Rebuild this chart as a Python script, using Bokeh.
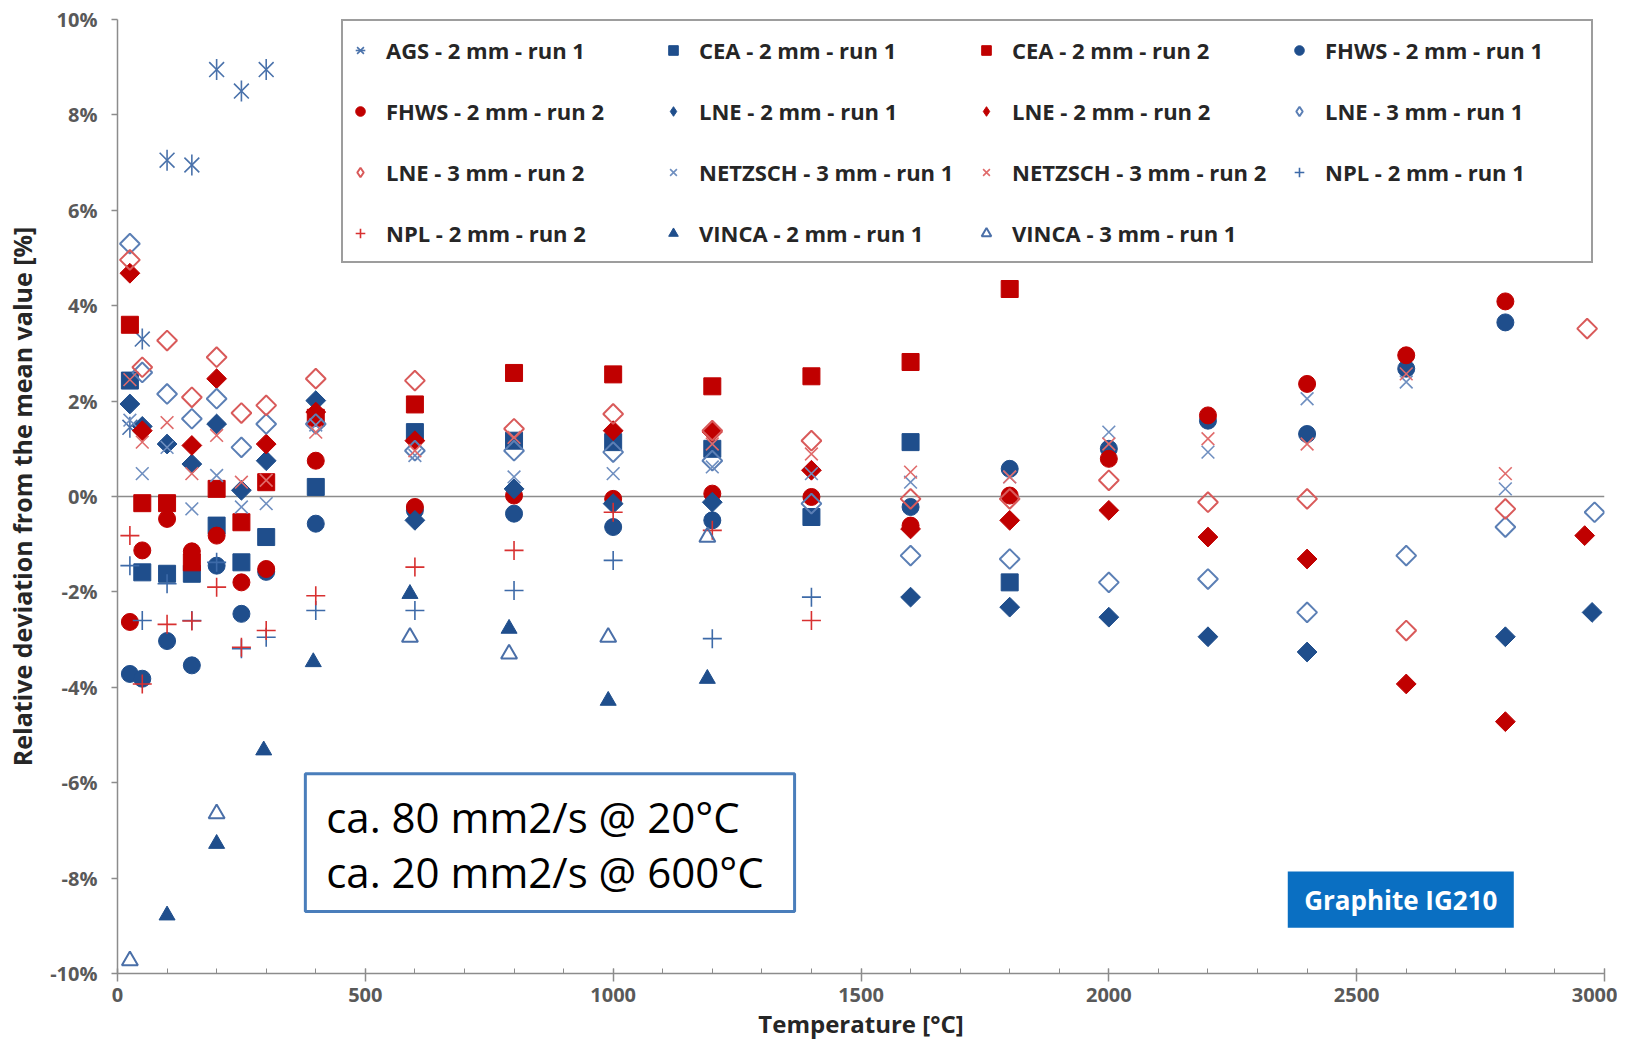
import numpy as np
from bokeh.plotting import figure
from bokeh.models import (FixedTicker, PrintfTickFormatter, Span, Legend, LegendItem,
                          BoxAnnotation, Label, Range1d)
from bokeh.embed import file_html
from bokeh.resources import INLINE

# ---------------- data ----------------
AGS_T = [25, 50, 100, 150, 200, 250, 300]
AGS_V = [1.45, 3.3, 7.05, 6.95, 8.95, 8.5, 8.95]

CEA1_T = [25, 50, 100, 150, 200, 250, 300, 400, 600, 800, 1000, 1200, 1400, 1600, 1800]
CEA1_V = [2.43, -1.59, -1.62, -1.62, -0.61, -1.38, -0.85, 0.2, 1.35, 1.17, 1.14, 1.0, -0.43, 1.14, -1.8]

CEA2_T = [25, 50, 100, 150, 200, 250, 300, 400, 600, 800, 1000, 1200, 1400, 1600, 1800]
CEA2_V = [3.6, -0.14, -0.14, -1.38, 0.16, -0.54, 0.3, 1.65, 1.93, 2.59, 2.56, 2.31, 2.52, 2.82, 4.35]

FHWS1_T = [25, 50, 100, 150, 200, 250, 300, 400, 600, 800, 1000, 1200, 1600, 1800, 2000, 2200, 2400, 2600, 2800]
FHWS1_V = [-3.72, -3.82, -3.03, -3.54, -1.45, -2.46, -1.58, -0.57, -0.29, -0.36, -0.64, -0.5, -0.22, 0.58, 1.0, 1.59, 1.31, 2.68, 3.65]

FHWS2_T = [25, 50, 100, 150, 200, 250, 300, 400, 600, 800, 1000, 1200, 1400, 1600, 1800, 2000, 2200, 2400, 2600, 2800]
FHWS2_V = [-2.63, -1.13, -0.47, -1.15, -0.82, -1.8, -1.52, 0.75, -0.22, 0.02, -0.05, 0.06, -0.01, -0.61, 0.02, 0.79, 1.7, 2.36, 2.96, 4.09]

LNE1_T = [25, 50, 100, 150, 200, 250, 300, 400, 600, 800, 1000, 1200, 1600, 1800, 2000, 2200, 2400, 2800, 2975]
LNE1_V = [1.94, 1.47, 1.1, 0.68, 1.52, 0.13, 0.75, 2.01, -0.5, 0.16, -0.15, -0.12, -2.11, -2.32, -2.53, -2.94, -3.26, -2.94, -2.43]

LNE2_T = [25, 50, 150, 200, 300, 400, 600, 1000, 1200, 1400, 1600, 1800, 2000, 2200, 2400, 2600, 2800, 2960]
LNE2_V = [4.68, 1.38, 1.07, 2.47, 1.1, 1.77, 1.17, 1.38, 1.35, 0.55, -0.68, -0.5, -0.29, -0.85, -1.31, -3.93, -4.72, -0.82]

LNE3_1_T = [25, 50, 100, 150, 200, 250, 300, 400, 600, 800, 1000, 1200, 1400, 1600, 1800, 2000, 2200, 2400, 2600, 2800, 2980]
LNE3_1_V = [5.3, 2.6, 2.15, 1.63, 2.05, 1.03, 1.52, 1.52, 0.96, 0.96, 0.93, 0.75, -0.15, -1.24, -1.31, -1.8, -1.73, -2.43, -1.24, -0.64, -0.33]

LNE3_2_T = [25, 50, 100, 150, 200, 250, 300, 400, 600, 800, 1000, 1200, 1400, 1600, 1800, 2000, 2200, 2400, 2600, 2800, 2965]
LNE3_2_V = [4.96, 2.71, 3.27, 2.08, 2.92, 1.75, 1.91, 2.47, 2.43, 1.42, 1.73, 1.38, 1.17, -0.05, -0.05, 0.34, -0.12, -0.05, -2.81, -0.26, 3.52]

NETZSCH1_T = [25, 50, 100, 150, 200, 250, 300, 400, 600, 800, 1000, 1200, 1400, 1600, 1800, 2000, 2200, 2400, 2600, 2800]
NETZSCH1_V = [1.6, 0.48, 1.03, -0.26, 0.44, -0.22, -0.15, 1.5, 0.86, 0.41, 0.48, 0.62, 0.48, 0.3, 0.41, 1.35, 0.93, 2.05, 2.4, 0.16]

NETZSCH2_T = [25, 50, 100, 150, 200, 250, 300, 400, 600, 800, 1200, 1400, 1600, 1800, 2000, 2200, 2400, 2600, 2800]
NETZSCH2_V = [2.45, 1.14, 1.55, 0.48, 1.28, 0.3, 0.34, 1.35, 0.96, 1.24, 1.1, 0.89, 0.51, 0.41, 1.1, 1.21, 1.1, 2.57, 0.48]

NPL1_T = [25, 50, 100, 150, 200, 250, 300, 400, 600, 800, 1000, 1200, 1400]
NPL1_V = [-1.45, -2.6, -1.83, -2.6, -1.38, -3.19, -2.95, -2.39, -2.39, -1.97, -1.34, -2.98, -2.11]

NPL2_T = [25, 50, 100, 150, 200, 250, 300, 400, 600, 800, 1000, 1200, 1400]
NPL2_V = [-0.82, -3.93, -2.68, -2.61, -1.9, -3.16, -2.81, -2.08, -1.48, -1.13, -0.33, -0.71, -2.6]

VINCA2_T = [100, 200, 295, 395, 590, 790, 990, 1190]
VINCA2_V = [-8.78, -7.28, -5.32, -3.47, -2.04, -2.77, -4.28, -3.82]

VINCA3_T = [25, 200, 590, 790, 990, 1190]
VINCA3_V = [-9.73, -6.65, -2.95, -3.3, -2.95, -0.85]

SERIES_NAMES = ["AGS - 2 mm - run 1", "CEA - 2 mm - run 1", "CEA - 2 mm - run 2", "FHWS - 2 mm - run 1",
                "FHWS - 2 mm - run 2", "LNE - 2 mm - run 1", "LNE - 2 mm - run 2", "LNE - 3 mm - run 1",
                "LNE - 3 mm - run 2", "NETZSCH - 3 mm - run 1", "NETZSCH - 3 mm - run 2", "NPL - 2 mm - run 1",
                "NPL - 2 mm - run 2", "VINCA - 2 mm - run 1", "VINCA - 3 mm - run 1"]

X_TICKS = [0, 500, 1000, 1500, 2000, 2500, 3000]
X_MINOR = list(range(0, 3001, 100))
Y_TICKS = [-10, -8, -6, -4, -2, 0, 2, 4, 6, 8, 10]

BOX_LINES = ["ca. 80 mm2/s @ 20°C", "ca. 20 mm2/s @ 600°C"]
TAG_TEXT = "Graphite IG210"

# ---------------- styling ----------------
BLUE = "#1f4e8c"
RED = "#c00000"
FONT = "Open Sans"

p = figure(width=1617, height=1042, output_backend="svg", toolbar_location=None,
           x_range=Range1d(0, 3000), y_range=Range1d(-10, 10),
           min_border_left=117, min_border_right=13, min_border_top=19, min_border_bottom=69)
p.outline_line_color = None
p.grid.visible = False
p.background_fill_color = "white"

zero = Span(location=0, dimension="width", line_color="#8c8c8c", line_width=1.5, level="underlay")
p.add_layout(zero)

D45 = np.pi / 4
# (xs, ys, plot style, legend-proxy marker or None)
styles = [
    (AGS_T, AGS_V, dict(marker="x", size=21, line_color="#4a72ab", line_width=1.6, fill_color=None), "AGS"),
    (CEA1_T, CEA1_V, dict(marker="square", size=17, line_color=BLUE, fill_color=BLUE), None),
    (CEA2_T, CEA2_V, dict(marker="square", size=17, line_color=RED, fill_color=RED), None),
    (FHWS1_T, FHWS1_V, dict(marker="circle", size=17, line_color=BLUE, fill_color=BLUE), None),
    (FHWS2_T, FHWS2_V, dict(marker="circle", size=17, line_color=RED, fill_color=RED), None),
    (LNE1_T, LNE1_V, dict(marker="square", angle=D45, size=14, line_color=BLUE, fill_color=BLUE), "diamond"),
    (LNE2_T, LNE2_V, dict(marker="square", angle=D45, size=14, line_color=RED, fill_color=RED), "diamond"),
    (LNE3_1_T, LNE3_1_V, dict(marker="square", angle=D45, size=14, line_color="#5b7fb5", line_width=2, fill_color=None), "diamond"),
    (LNE3_2_T, LNE3_2_V, dict(marker="square", angle=D45, size=14, line_color="#d95a5a", line_width=2, fill_color=None), "diamond"),
    (NETZSCH1_T, NETZSCH1_V, dict(marker="x", size=18, line_color="#6f8fc0", line_width=1.6, fill_color=None), None),
    (NETZSCH2_T, NETZSCH2_V, dict(marker="x", size=18, line_color="#e06b6b", line_width=1.6, fill_color=None), None),
    (NPL1_T, NPL1_V, dict(marker="cross", size=19, line_color="#3d6aa8", line_width=1.6, fill_color=None), None),
    (NPL2_T, NPL2_V, dict(marker="cross", size=19, line_color="#d83030", line_width=1.6, fill_color=None), None),
    (VINCA2_T, VINCA2_V, dict(marker="triangle", size=16, line_color=BLUE, fill_color=BLUE), None),
    (VINCA3_T, VINCA3_V, dict(marker="triangle", size=16, line_color="#4a6fa8", line_width=2, fill_color=None), None),
]

items = []
for name, (xs, ys, st, proxy) in zip(SERIES_NAMES, styles):
    r = p.scatter(x=xs, y=ys, **st)
    rends = [r]
    if proxy == "AGS":
        # vertical bar completing the Excel-style star marker
        r2 = p.scatter(x=xs, y=ys, marker="dash", angle=np.pi / 2, size=21,
                       line_color=st["line_color"], line_width=1.6)
        rends = [r, r2]
    elif proxy == "diamond":
        # legend-only renderer (one NaN point, nothing drawn) so the legend shows a diamond symbol
        lst = {k: v for k, v in st.items() if k not in ("angle", "marker")}
        rends = [p.scatter(x=[np.nan], y=[np.nan], marker="diamond", **lst)]
    items.append(LegendItem(label=name, renderers=rends))

legend = Legend(items=items, orientation="horizontal", ncols=4, location=(224, 710),
                glyph_width=24, glyph_height=24, label_width=261, label_height=47,
                label_standoff=14, spacing=14, padding=5,
                label_text_font=FONT, label_text_font_size="22px", label_text_font_style="bold",
                label_text_color="#262626",
                border_line_color="#3c3c3c", border_line_width=2,
                background_fill_color="white", background_fill_alpha=1.0)
p.add_layout(legend)

# axes
p.xaxis.ticker = FixedTicker(ticks=X_TICKS, minor_ticks=X_MINOR)
p.yaxis.ticker = FixedTicker(ticks=Y_TICKS, minor_ticks=[])
p.yaxis.formatter = PrintfTickFormatter(format="%d%%")
for ax in (p.xaxis[0], p.yaxis[0]):
    ax.axis_line_color = "#8c8c8c"
    ax.axis_line_width = 1.5
    ax.major_tick_line_color = "#8c8c8c"
    ax.minor_tick_line_color = "#8c8c8c"
    ax.major_tick_line_width = 1.5
    ax.major_label_text_font = FONT
    ax.major_label_text_font_size = "20px"
    ax.major_label_text_font_style = "bold"
    ax.major_label_text_color = "#595959"
    ax.axis_label_text_font = FONT
    ax.axis_label_text_font_style = "bold"
    ax.axis_label_text_color = "#262626"

p.xaxis.axis_label = "Temperature [°C]"
p.xaxis.axis_label_text_font_size = "24px"
p.xaxis.major_tick_in = 5
p.xaxis.major_tick_out = 8
p.xaxis.minor_tick_in = 5
p.xaxis.minor_tick_out = 0
p.xaxis.major_label_standoff = 6
p.xaxis.axis_label_standoff = 2

p.yaxis.axis_label = "Relative deviation from the mean value [%]"
p.yaxis.axis_label_text_font_size = "25px"
p.yaxis.major_tick_in = 0
p.yaxis.major_tick_out = 6
p.yaxis.major_label_standoff = 14
p.yaxis.axis_label_standoff = 8

# annotation box with two text lines
BOX = dict(left=379, right=1366, top=-5.81, bottom=-8.7)
p.add_layout(BoxAnnotation(left=BOX["left"], right=BOX["right"], top=BOX["top"], bottom=BOX["bottom"],
                           fill_color="white", fill_alpha=1.0, line_color="#4a7ebb", line_width=3,
                           line_alpha=1.0, level="annotation"))
for txt, yy in zip(BOX_LINES, [-6.70, -7.86]):
    p.add_layout(Label(x=421, y=yy, text=txt, text_font=FONT, text_font_size="42px",
                       text_color="black", text_baseline="middle", text_align="left"))

TAG = dict(left=2361, right=2817, top=-7.86, bottom=-9.04)
p.add_layout(BoxAnnotation(left=TAG["left"], right=TAG["right"], top=TAG["top"], bottom=TAG["bottom"],
                           fill_color="#0a6fc2", fill_alpha=1.0, line_color=None))
p.add_layout(Label(x=(TAG["left"] + TAG["right"]) / 2, y=(TAG["top"] + TAG["bottom"]) / 2, text=TAG_TEXT,
                   text_font=FONT, text_font_size="26px", text_font_style="bold", text_color="white",
                   text_baseline="middle", text_align="center"))

open("out.html", "w").write(file_html(p, INLINE))
